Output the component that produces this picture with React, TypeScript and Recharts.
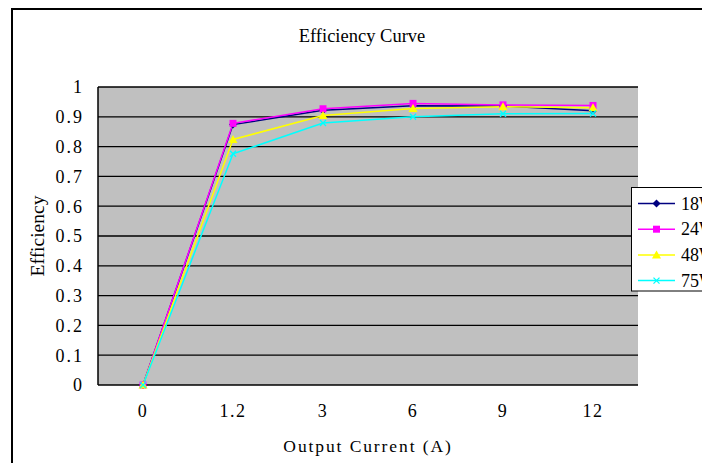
import { LineChart, Line, XAxis, YAxis, CartesianGrid, Label } from "recharts";

const currents = ["0", "1.2", "3", "6", "9", "12"];
const seriesNames = ["18W", "24W", "48W", "75W"];
const eff18 = [0, 0.874, 0.922, 0.937, 0.936, 0.92];
const eff24 = [0, 0.878, 0.927, 0.945, 0.94, 0.938];
const eff48 = [0, 0.824, 0.904, 0.928, 0.934, 0.93];
const eff75 = [0, 0.776, 0.879, 0.9, 0.91, 0.911];
const yTicks = [0, 0.1, 0.2, 0.3, 0.4, 0.5, 0.6, 0.7, 0.8, 0.9, 1];

const seriesValues = [eff18, eff24, eff48, eff75];
const colors = ["#000080", "#FF00FF", "#FFFF00", "#00FFFF"];
const shapes = ["diamond", "square", "triangle", "x"];

const data = currents.map((c, i) => {
    const row: Record<string, string | number> = { current: c };
    seriesNames.forEach((name, s) => {
        row[name] = seriesValues[s][i];
    });
    return row;
});

// category boundaries for the Excel style tick marks
const edges = [...currents.map((_, i) => i), currents.length];

const serif = '"Liberation Serif", "Times New Roman", serif';

function Marker({ shape, color, cx, cy }: { shape: string; color: string; cx: number; cy: number }) {
    if (cx == null || cy == null) return <g />;
    if (shape === "diamond") {
        return (
            <polygon
                points={`${cx},${cy - 4} ${cx + 4},${cy} ${cx},${cy + 4} ${cx - 4},${cy}`}
                fill={color}
            />
        );
    }
    if (shape === "square") {
        return <rect x={cx - 3.5} y={cy - 3.5} width={7} height={7} fill={color} />;
    }
    if (shape === "triangle") {
        return (
            <polygon
                points={`${cx},${cy - 4.5} ${cx + 4.5},${cy + 3.5} ${cx - 4.5},${cy + 3.5}`}
                fill={color}
            />
        );
    }
    return (
        <path
            d={`M${cx - 3},${cy - 3}L${cx + 3},${cy + 3}M${cx + 3},${cy - 3}L${cx - 3},${cy + 3}`}
            stroke={color}
            strokeWidth={1.3}
            fill="none"
        />
    );
}

export default function App() {
    return (
        <div
            style={{
                position: "absolute",
                left: 0,
                top: 0,
                width: 702,
                height: 463,
                overflow: "hidden",
                background: "#fff",
            }}
        >
            <div
                style={{
                    position: "absolute",
                    left: 11,
                    top: 8,
                    width: 760,
                    height: 520,
                    border: "2px solid #000",
                    boxSizing: "border-box",
                }}
            />
            <div style={{ position: "absolute", left: 0, top: 0 }}>
                <LineChart
                    width={702}
                    height={463}
                    data={data}
                    margin={{ top: 87, right: 64, bottom: 0, left: 38 }}
                >
                    <CartesianGrid
                        xAxisId="cat"
                        vertical={false}
                        stroke="#000"
                        strokeWidth={1.3}
                        fill="#C0C0C0"
                        fillOpacity={1}
                    />
                    <XAxis
                        xAxisId="edge"
                        type="number"
                        domain={[0, currents.length]}
                        ticks={edges}
                        allowDataOverflow
                        height={0}
                        mirror
                        tickSize={5}
                        tick={() => <g />}
                        axisLine={{ stroke: "#000", strokeWidth: 1.5 }}
                        tickLine={{ stroke: "#000", strokeWidth: 1.5 }}
                    />
                    <XAxis
                        xAxisId="cat"
                        dataKey="current"
                        interval={0}
                        height={78}
                        padding={{ left: 45, right: 45 }}
                        axisLine={false}
                        tickLine={false}
                        tickSize={6}
                        tickMargin={13}
                        tick={{ fill: "#000", fontSize: 18, fontFamily: serif, letterSpacing: 1.5 }}
                    >
                        <Label
                            value="Output Current (A)"
                            position="insideBottom"
                            offset={11}
                            style={{ fill: "#000", fontSize: 17.5, fontFamily: serif, letterSpacing: 1.9 }}
                        />
                    </XAxis>
                    <YAxis
                        domain={[0, 1]}
                        ticks={yTicks}
                        width={60}
                        tickLine={false}
                        tickSize={6}
                        tickMargin={8}
                        axisLine={{ stroke: "#000", strokeWidth: 1.5 }}
                        tick={{ fill: "#000", fontSize: 18, fontFamily: serif, letterSpacing: 2 }}
                    >
                        <Label
                            value="Efficiency"
                            angle={-90}
                            position="insideLeft"
                            offset={-1}
                            style={{ fill: "#000", fontSize: 19.5, fontFamily: serif, textAnchor: "middle" }}
                        />
                    </YAxis>
                    <YAxis
                        yAxisId="r"
                        orientation="right"
                        width={0}
                        tick={false}
                        tickLine={false}
                        axisLine={{ stroke: "#808080" }}
                    />
                    {seriesNames.map((name, s) => (
                        <Line
                            key={name}
                            xAxisId="cat"
                            dataKey={name}
                            type="linear"
                            stroke={colors[s]}
                            strokeWidth={1.5}
                            isAnimationActive={false}
                            dot={(p: any) => (
                                <Marker
                                    key={`${name}-${p.index}`}
                                    shape={shapes[s]}
                                    color={colors[s]}
                                    cx={p.cx}
                                    cy={p.cy}
                                />
                            )}
                            activeDot={false}
                        />
                    ))}
                </LineChart>
            </div>
            <svg
                width={702}
                height={463}
                style={{ position: "absolute", left: 0, top: 0, pointerEvents: "none" }}
            >
                <text
                    x={362}
                    y={42}
                    textAnchor="middle"
                    fontFamily={serif}
                    fontSize={18.5}
                    fill="#000"
                >
                    Efficiency Curve
                </text>
                <rect x={631.5} y={187.5} width={110} height={103.5} fill="#fff" stroke="#000" />
                {seriesNames.map((name, s) => {
                    const y = 203.5 + s * 25.7;
                    return (
                        <g key={name}>
                            <line x1={638} x2={675} y1={y} y2={y} stroke={colors[s]} strokeWidth={1.5} />
                            <Marker shape={shapes[s]} color={colors[s]} cx={656.5} cy={y} />
                            <text x={681} y={y + 6} fontFamily={serif} fontSize={18} fill="#000">
                                {name}
                            </text>
                        </g>
                    );
                })}
            </svg>
        </div>
    );
}
